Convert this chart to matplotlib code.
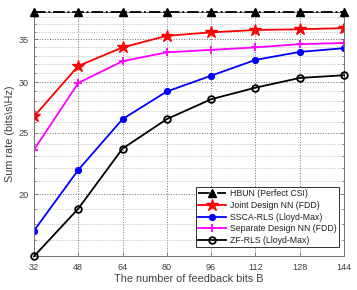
import matplotlib
matplotlib.use("Agg")
import matplotlib.pyplot as plt
from matplotlib.ticker import FixedLocator, NullFormatter

plt.rcParams['font.family'] = ['Liberation Sans', 'DejaVu Sans']

bits = [32, 48, 64, 80, 96, 112, 128, 144]
hbun = [38.7, 38.7, 38.7, 38.7, 38.7, 38.7, 38.7, 38.7]
joint = [26.5, 31.8, 34.0, 35.45, 35.9, 36.2, 36.3, 36.45]
ssca = [17.55, 21.85, 26.25, 29.0, 30.7, 32.5, 33.45, 33.9]
separate = [23.5, 29.9, 32.35, 33.4, 33.7, 34.0, 34.4, 34.55]
zf = [16.0, 19.0, 23.6, 26.25, 28.2, 29.4, 30.45, 30.75]

yticks = [20, 25, 30, 35]
yminor = list(range(16, 39))

fig = plt.figure(figsize=(3.57, 2.90), dpi=100)
ax = fig.add_axes([0.0952, 0.1162, 0.8684, 0.8441])

lw = 1.3
ax.plot(bits, hbun, color='black', linestyle='-.', linewidth=lw, marker='^', markersize=5.5,
        label='HBUN (Perfect CSI)', zorder=5, clip_on=False)
ax.plot(bits, joint, color='red', linewidth=lw, marker='*', markersize=9, label='Joint Design NN (FDD)')
ax.plot(bits, ssca, color='blue', linewidth=lw, marker='o', markersize=4.2, label='SSCA-RLS (Lloyd-Max)')
ax.plot(bits, separate, color='magenta', linewidth=lw, marker='+', markersize=5.5, markeredgewidth=1.3,
        label='Separate Design NN (FDD)')
ax.plot(bits, zf, color='black', linewidth=lw, marker='o', markersize=4.8, markerfacecolor='none',
        markeredgewidth=1.3, label='ZF-RLS (Lloyd-Max)', clip_on=False, zorder=4)

ax.set_yscale('log')
ax.set_xlim(32, 144)
ax.set_ylim(16, 38.7)
ax.set_xticks(bits)
ax.set_xticklabels([str(b) for b in bits])
ax.yaxis.set_major_locator(FixedLocator(yticks))
ax.set_yticklabels([str(t) for t in yticks])
ax.yaxis.set_minor_locator(FixedLocator(yminor))
ax.yaxis.set_minor_formatter(NullFormatter())

ax.grid(True, which='major', linestyle=':', color='#707070', linewidth=0.7)
ax.grid(True, which='minor', axis='y', linestyle=':', color='#b0b0b0', linewidth=0.6)

gray = '#404040'
for s in ax.spines.values():
    s.set_color('#707070')
    s.set_linewidth(0.7)
ax.tick_params(which='both', direction='in', top=True, right=True, colors='#707070',
               labelcolor=gray, labelsize=6.6, length=3, width=0.6)
ax.tick_params(axis='x', pad=4.5)
ax.tick_params(which='minor', length=1.5)

ax.set_xlabel('The number of feedback bits B', fontsize=7.8, color=gray, labelpad=1.5)
ax.set_ylabel('Sum rate (bits\\s\\Hz)', fontsize=7.8, color=gray, labelpad=3)

leg = ax.legend(loc='lower right', bbox_to_anchor=(0.984, 0.036), fontsize=6.3, frameon=True,
                fancybox=False, edgecolor='#303030', framealpha=1, handlelength=3.2,
                borderpad=0.3, labelspacing=0.3, handletextpad=0.4, borderaxespad=0)
leg.get_frame().set_linewidth(0.7)
for t in leg.get_texts():
    t.set_color('#202020')

fig.savefig('out.png', dpi=100)
